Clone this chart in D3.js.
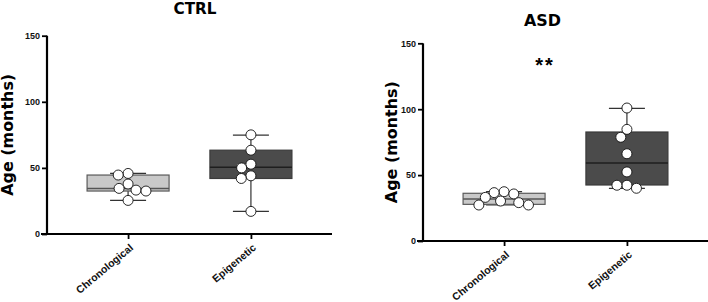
<!DOCTYPE html>
<html>
<head>
<meta charset="utf-8">
<script src="https://cdn.jsdelivr.net/npm/d3@7"></script>
<style>
  body { margin: 0; background: #fff; }
  svg { font-family: "Liberation Sans", Arial, sans-serif; }
</style>
</head>
<body>
<svg id="chart" width="708" height="302"></svg>
<script>
// categories and tick values
var categories = ["Chronological", "Epigenetic"];
var yTicks = [0, 50, 100, 150];

// individual ages (months)
var ctrlChrono = [45.8, 44.6, 37.8, 34.5, 33.2, 32.5, 25.4];
var ctrlEpi = [75, 63.4, 52.8, 50, 44, 42, 17.1];
var asdChrono = [37.4, 36.7, 35.7, 33.1, 30.3, 29.1, 27.3, 27.3];
var asdEpi = [100.9, 84.7, 78.7, 66.2, 52.4, 42.3, 42.3, 40];

// box stats [min, q1, median, q3, max] as drawn
var ctrlChronoBox = [25.4, 32.5, 34.5, 44.6, 45.8];
var ctrlEpiBox = [17.1, 42, 50.4, 63.4, 74.8];
var asdChronoBox = [27.3, 27.8, 31.9, 36.2, 37.4];
var asdEpiBox = [40, 42.5, 59.2, 82.7, 100.7];

var panels = [
  { title: "CTRL", titleLen: 43, x0: 47, yBottom: 234, yTop: 35.7, titleY: 13.5, titleX: 195, yTitleX: 13,
    points: [ctrlChrono, ctrlEpi], boxes: [ctrlChronoBox, ctrlEpiBox], star: null },
  { title: "ASD", titleLen: 37, x0: 423, yBottom: 241, yTop: 43.3, titleY: 26, titleX: 542.5, yTitleX: 397,
    points: [asdChrono, asdEpi], boxes: [asdChronoBox, asdEpiBox], star: "**" }
];

var boxFill = ["#c9c9c9", "#4b4b4b"];
var boxStroke = ["#5a5a5a", "#3a3a3a"];
var medianStroke = ["#555", "#1e1e1e"];
var R = 5;
var bigFont = "'DejaVu Sans', Verdana, sans-serif";

var svg = d3.select("#chart");

// simple beeswarm: put each point as close to the centre as it can go
function dodge(values, y, r) {
  var placed = [];
  var sorted = values.slice().sort(function(a, b) { return b - a; });
  sorted.forEach(function(v) {
    var py = y(v);
    var bad = [];
    placed.forEach(function(p) {
      var dy = Math.abs(p.y - py);
      if (dy < 2 * r) {
        var dx = Math.sqrt(4 * r * r - dy * dy);
        bad.push([p.x - dx, p.x + dx]);
      }
    });
    var cands = [0];
    bad.forEach(function(b) { cands.push(b[0], b[1]); });
    cands.sort(function(a, b) { return Math.abs(a) - Math.abs(b); });
    var x = cands.find(function(c) {
      return bad.every(function(b) { return c <= b[0] + 0.01 || c >= b[1] - 0.01; });
    });
    placed.push({ x: x, y: py, v: v });
  });
  return placed;
}

panels.forEach(function(p) {
  var g = svg.append("g");
  var x = d3.scalePoint().domain(categories).range([p.x0, p.x0 + 285]).padding(0.66);
  var y = d3.scaleLinear().domain([0, 150]).range([p.yBottom, p.yTop]);
  var midX = p.x0 + 142;

  g.append("text")
    .attr("x", p.titleX).attr("y", p.titleY)
    .attr("text-anchor", "middle")
    .attr("font-family", bigFont)
    .attr("font-size", 15.5).attr("font-weight", "bold")
    .attr("textLength", p.titleLen).attr("lengthAdjust", "spacingAndGlyphs")
    .text(p.title);

  // boxes and whiskers
  categories.forEach(function(c, i) {
    var b = p.boxes[i];
    var cx = x(c);
    var bw = 82, cap = 18;
    var wg = g.append("g").attr("stroke", "#333").attr("stroke-width", 1.2);
    wg.append("line").attr("x1", cx).attr("x2", cx).attr("y1", y(b[0])).attr("y2", y(b[4]));
    wg.append("line").attr("x1", cx - cap).attr("x2", cx + cap).attr("y1", y(b[0])).attr("y2", y(b[0]));
    wg.append("line").attr("x1", cx - cap).attr("x2", cx + cap).attr("y1", y(b[4])).attr("y2", y(b[4]));
    g.append("rect")
      .attr("x", cx - bw / 2).attr("width", bw)
      .attr("y", y(b[3])).attr("height", y(b[1]) - y(b[3]))
      .attr("fill", boxFill[i]).attr("stroke", boxStroke[i]).attr("stroke-width", 1.2);
    g.append("line")
      .attr("x1", cx - bw / 2).attr("x2", cx + bw / 2)
      .attr("y1", y(b[2])).attr("y2", y(b[2]))
      .attr("stroke", medianStroke[i]).attr("stroke-width", 1.5);

    g.append("g").selectAll("circle")
      .data(dodge(p.points[i], y, R))
      .enter().append("circle")
      .attr("cx", function(d) { return cx + d.x; })
      .attr("cy", function(d) { return d.y; })
      .attr("r", R)
      .attr("fill", "#fff").attr("stroke", "#111").attr("stroke-width", 0.9);
  });

  // axes
  var yAxis = g.append("g")
    .attr("transform", "translate(" + p.x0 + ",0)")
    .call(d3.axisLeft(y).tickValues(yTicks).tickSize(5).tickPadding(2).tickSizeOuter(0));
  yAxis.select(".domain").attr("stroke-width", 2.2).attr("d", "M0," + (p.yBottom + 1) + "V" + p.yTop);
  yAxis.selectAll(".tick line").attr("stroke-width", 1.8);
  yAxis.selectAll("text").attr("font-size", 9).attr("font-weight", "bold").attr("fill", "#111");

  var xAxis = g.append("g")
    .attr("transform", "translate(0," + p.yBottom + ")")
    .call(d3.axisBottom(x).tickSize(5).tickSizeOuter(0));
  xAxis.select(".domain").attr("stroke-width", 2.2).attr("d", "M" + (p.x0 - 6) + ",0H" + (p.x0 + 285));
  xAxis.selectAll(".tick line").attr("stroke-width", 1.8);
  xAxis.selectAll("text")
    .attr("font-size", 10.5).attr("font-weight", "bold").attr("fill", "#111")
    .attr("text-anchor", "end")
    .attr("dy", "0.35em")
    .attr("transform", "translate(3,12) rotate(-40)")
    .attr("y", 0).attr("x", 0);

  g.append("text")
    .attr("transform", "translate(" + p.yTitleX + "," + y(75) + ") rotate(-90)")
    .attr("text-anchor", "middle")
    .attr("font-family", bigFont)
    .attr("font-size", 15).attr("font-weight", "bold")
    .attr("textLength", 122).attr("lengthAdjust", "spacingAndGlyphs")
    .text("Age (months)");

  if (p.star) {
    g.append("text")
      .attr("x", midX - 20).attr("y", y(130) + 2)
      .attr("text-anchor", "middle")
      .attr("font-size", 20).attr("font-weight", "bold")
      .attr("letter-spacing", 2)
      .text(p.star);
  }
});
</script>
</body>
</html>
